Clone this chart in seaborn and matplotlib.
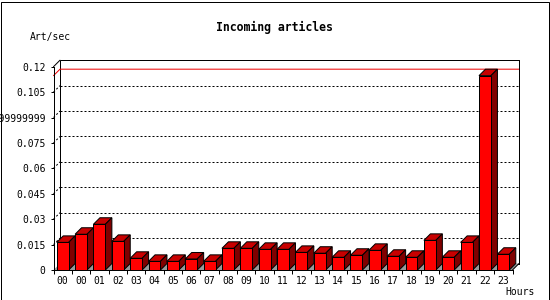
import numpy as np
import pandas as pd
import matplotlib
matplotlib.use("Agg")
import matplotlib.pyplot as plt
from matplotlib.patches import Polygon, Rectangle
from matplotlib.lines import Line2D
import seaborn as sns

# ---- data ----
hours = ["00", "00", "01", "02", "03", "04", "05", "06", "07", "08", "09", "10",
         "11", "12", "13", "14", "15", "16", "17", "18", "19", "20", "21", "22", "23"]
rates = [0.0163, 0.0211, 0.0270, 0.0169, 0.0069, 0.0051, 0.0051, 0.0065, 0.0051,
         0.0128, 0.0128, 0.0122, 0.0122, 0.0104, 0.0099, 0.0075, 0.0087, 0.0116,
         0.0081, 0.0075, 0.0175, 0.0075, 0.0163, 0.1147, 0.0093]
y_ticks = [0, 0.015, 0.03, 0.045, 0.06, 0.075, 0.09, 0.105, 0.12]
y_tick_labels = ["0", "0.015", "0.03", "0.045", "0.06", "0.075", "0.0899999999",
                 "0.105", "0.12"]
title = "Incoming articles"
y_label = "Art/sec"
x_label = "Hours"

# ---- style ----
sns.set_theme(style="white")
plt.rcParams['font.family'] = ['DejaVu Sans Mono', 'DejaVu Sans']

W, H, DPI = 550, 300, 100
PX = 72.0 / DPI  # points per pixel
DEPTH = 6.5      # 3D depth in pixels

fig = plt.figure(figsize=(W / DPI, H / DPI), dpi=DPI)
fig.patch.set_facecolor("white")
ax = fig.add_axes([53.5 / W, 30.0 / H, 459.0 / W, 203.3 / H])

df = pd.DataFrame({"slot": list(range(len(rates))), "rate": rates})
sns.barplot(data=df, x="slot", y="rate", ax=ax, width=0.65, color="#ff0000",
            saturation=1, edgecolor="black", linewidth=PX, zorder=2)

ax.set_xlim(-0.5, len(rates) - 0.5)
ax.set_ylim(0, 0.12)
ax.patch.set_visible(False)
for s in ["top", "right"]:
    ax.spines[s].set_visible(False)
for s in ["left", "bottom"]:
    ax.spines[s].set_color("black")
    ax.spines[s].set_linewidth(PX)
    ax.spines[s].set_zorder(3)

# ticks
ax.set_yticks(y_ticks, y_tick_labels)
ax.set_xticks(range(len(hours)), hours)
ax.set_xticks(np.arange(-0.5, len(hours), 1.0), minor=True)
ax.tick_params(axis="y", left=True, length=3 * PX, width=PX, color="black",
               pad=5 * PX, labelsize=7.05, labelcolor="black")
ax.tick_params(axis="x", which="major", bottom=True, length=0, pad=6 * PX,
               labelsize=7.05, labelcolor="black")
ax.tick_params(axis="x", which="minor", bottom=True, length=4 * PX, width=PX,
               color="black")
ax.set_xlabel("")
ax.set_ylabel("")

fig.canvas.draw()
to_disp = ax.transData.transform
to_data = ax.transData.inverted().transform


def back(x, y):
    d = to_disp((x, y))
    return tuple(to_data((d[0] + DEPTH, d[1] + DEPTH)))


x_lo, x_hi = -0.5, len(rates) - 0.5
y_top = 0.12

# back wall
bl, br, tr, tl = back(x_lo, 0), back(x_hi, 0), back(x_hi, y_top), back(x_lo, y_top)
ax.add_patch(Polygon([bl, br, tr, tl], closed=True, facecolor="white",
                     edgecolor="black", linewidth=PX, zorder=0.5, clip_on=False))
# left wall top diagonal
ax.add_line(Line2D([x_lo, tl[0]], [y_top, tl[1]], color="black", linewidth=PX,
                   zorder=0.6, clip_on=False))

# dotted grid on back and left walls
for v in y_ticks[1:-1]:
    a, b = back(x_lo, v), back(x_hi, v)
    ax.add_line(Line2D([a[0], b[0]], [a[1], b[1]], color="black", linewidth=PX,
                       linestyle=(0, (2, 2)), zorder=0.6, clip_on=False))
    ax.add_line(Line2D([x_lo, a[0]], [v, a[1]], color="black", linewidth=PX,
                       linestyle=(0, (2, 2)), zorder=0.6, clip_on=False))

# max line
vmax = max(rates)
a, b = back(x_lo, vmax), back(x_hi, vmax)
ax.add_line(Line2D([x_lo, a[0], b[0]], [vmax, a[1], b[1]], color="#ee0000",
                   linewidth=PX, zorder=0.7, clip_on=False))

# floor
ax.add_patch(Polygon([(x_lo, 0), (x_hi, 0), br, bl], closed=True,
                     facecolor="#999999", edgecolor="none", zorder=0.8,
                     clip_on=False))
ax.add_line(Line2D([x_hi, br[0]], [0, br[1]], color="black", linewidth=PX,
                   zorder=0.9, clip_on=False))
ax.add_line(Line2D([br[0], tr[0]], [br[1], tr[1]], color="black", linewidth=PX,
                   zorder=0.9, clip_on=False))

# 3D bar tops and sides
for p in list(ax.patches):
    if not isinstance(p, Rectangle):
        continue
    x0 = p.get_x()
    x1 = x0 + p.get_width()
    h = p.get_height()
    if h <= 0:
        continue
    top = [(x0, h), (x1, h), back(x1, h), back(x0, h)]
    side = [(x1, 0), (x1, h), back(x1, h), back(x1, 0)]
    ax.add_patch(Polygon(top, closed=True, facecolor="#c80000", edgecolor="black",
                         linewidth=PX, zorder=1.9, clip_on=False))
    ax.add_patch(Polygon(side, closed=True, facecolor="#800000", edgecolor="black",
                         linewidth=PX, zorder=1.9, clip_on=False))

# texts
fig.text(274.0 / W, 1 - 27.3 / H, title, ha="center", va="center",
         fontsize=8.3, fontweight="bold", color="black")
fig.text(30.0 / W, 1 - 37.0 / H, y_label, ha="left", va="center",
         fontsize=7.05, color="black")
fig.text(505.0 / W, 1 - 292.0 / H, x_label, ha="left", va="center",
         fontsize=7.05, color="black")

# image border
fig.patches.append(Rectangle((0.5 / W, 0.5 / H), (W - 1.5) / W, (H - 2.5) / H,
                             transform=fig.transFigure, fill=False,
                             edgecolor="black", linewidth=PX))

fig.savefig("out.png", dpi=DPI)
